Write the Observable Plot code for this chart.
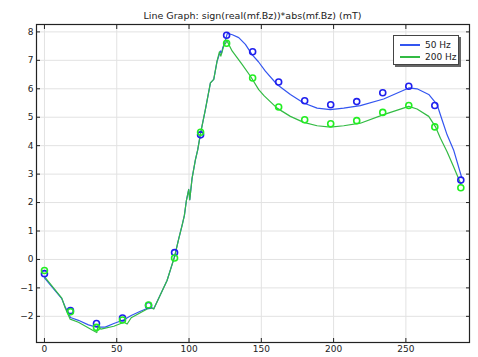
<!DOCTYPE html>
<html>
<head>
<meta charset="utf-8">
<script src="https://cdn.jsdelivr.net/npm/d3@7"></script>
<script src="https://cdn.jsdelivr.net/npm/@observablehq/plot@0.6"></script>
<style>
  html, body { margin: 0; padding: 0; background: #fff; }
  #wrap { position: relative; width: 478px; height: 357px; font-family: "DejaVu Sans", sans-serif; }
  #title { position: absolute; left: 36px; width: 433px; top: 10px; text-align: center; font-size: 9.5px; color: #222; }
  #chart { position: absolute; left: 0; top: 20px; }
  #legend { position: absolute; left: 393px; top: 35px; width: 64px; height: 28px; border: 1px solid #444;
            box-shadow: 2px 2px 0 #666; background: #fff; font-size: 9px; color: #222; }
  .row { position: absolute; left: 6px; height: 10px; display: flex; align-items: center; }
  .sw { display: block; width: 20px; height: 1.5px; margin-right: 5px; }
</style>
</head>
<body>
<div id="wrap">
  <div id="title">Line Graph: sign(real(mf.Bz))*abs(mf.Bz) (mT)</div>
  <div id="chart"></div>
  <div id="legend">
    <div class="row" style="top:4px"><span class="sw" style="background:#3355f0"></span>50 Hz</div>
    <div class="row" style="top:16px"><span class="sw" style="background:#33bb44"></span>200 Hz</div>
  </div>
</div>
<script>
// Simulated line, 50 Hz
const x50 = [0, 12, 14.3, 18, 23.5, 30.4, 36, 42, 48, 55, 60, 66, 73, 75.6, 84.8, 90, 92.9, 95.2, 96.8, 98.2, 99.8, 100.5, 102.1, 104.4, 106, 108, 111.3, 114.8, 117.1, 119.4, 121.7, 122.5, 123.3, 124.7, 126.5, 130, 134.4, 139, 143.6, 148, 152.8, 160.9, 170.1, 179.3, 188.6, 197.8, 207, 218.5, 234.6, 252, 257.7, 265.8, 271.6, 275, 278.5, 283, 288.5];
const y50 = [-0.65, -1.38, -1.66, -2.04, -2.14, -2.3, -2.38, -2.38, -2.25, -2.12, -1.97, -1.83, -1.68, -1.73, -0.74, 0.1, 0.73, 1.2, 1.55, 2.08, 2.46, 2.1, 2.85, 3.5, 3.85, 4.44, 5.27, 6.21, 6.33, 6.97, 7.33, 7.25, 7.44, 7.62, 7.95, 7.9, 7.8, 7.56, 7.2, 6.95, 6.62, 6.15, 5.8, 5.5, 5.32, 5.27, 5.32, 5.41, 5.64, 6.03, 6.0, 5.8, 5.44, 4.91, 4.38, 3.85, 2.9];
// Simulated line, 200 Hz
const x200 = [0, 12, 14.3, 17.8, 23.5, 32.7, 36.2, 37, 39, 48, 55, 57.2, 60, 66, 73, 75.6, 84.8, 90, 92.9, 95.2, 96.8, 98.2, 99.8, 100.5, 102.1, 104.4, 106, 108, 111.3, 114.8, 117.1, 119.4, 121, 122, 124, 126.3, 129.8, 136.7, 142.5, 148.2, 152, 160.9, 170.1, 179.3, 188.6, 197.8, 207, 218.5, 234.6, 252, 257.7, 265.8, 270.4, 273.9, 278.5, 283, 288];
const y200 = [-0.6, -1.36, -1.7, -2.1, -2.21, -2.47, -2.57, -2.35, -2.45, -2.35, -2.21, -2.27, -2.05, -1.88, -1.69, -1.74, -0.74, 0.1, 0.73, 1.2, 1.55, 2.08, 2.46, 2.1, 2.85, 3.5, 3.85, 4.44, 5.27, 6.21, 6.33, 6.97, 7.3, 7.15, 7.5, 7.68, 7.33, 6.86, 6.44, 5.97, 5.75, 5.32, 5.03, 4.82, 4.7, 4.65, 4.7, 4.79, 5.09, 5.38, 5.29, 5.03, 4.67, 4.26, 3.79, 3.26, 2.65];
// Measured points
const xMeas = [0, 18, 36, 54, 72, 90, 108, 126, 144, 162, 180, 198, 216, 234, 252, 270, 288];
const m50 = [-0.5, -1.8, -2.25, -2.06, -1.62, 0.24, 4.38, 7.88, 7.3, 6.24, 5.58, 5.44, 5.55, 5.86, 6.09, 5.41, 2.79];
const m200 = [-0.39, -1.84, -2.39, -2.13, -1.6, 0.05, 4.47, 7.6, 6.38, 5.36, 4.91, 4.77, 4.88, 5.17, 5.41, 4.66, 2.52];
// Ticks
const xTicks = [0, 50, 100, 150, 200, 250];
const yTicks = [-2, -1, 0, 1, 2, 3, 4, 5, 6, 7, 8];

const line50 = x50.map((x, i) => ({x, y: y50[i]}));
const line200 = x200.map((x, i) => ({x, y: y200[i]}));
const pts50 = xMeas.map((x, i) => ({x, y: m50[i]}));
const pts200 = xMeas.map((x, i) => ({x, y: m200[i]}));

const chart = Plot.plot({
  width: 478,
  height: 337,
  marginLeft: 36,
  marginRight: 9,
  marginTop: 4,
  marginBottom: 15,
  style: {fontFamily: "DejaVu Sans, sans-serif", fontSize: "9px", background: "transparent", color: "#222"},
  x: {domain: [-5.5, 294]},
  y: {domain: [-2.92, 8.26]},
  marks: [
    Plot.gridX(xTicks, {stroke: "#e2e2e2", strokeOpacity: 1}),
    Plot.gridY(yTicks, {stroke: "#e2e2e2", strokeOpacity: 1}),
    Plot.axisX(xTicks, {anchor: "bottom", tickSize: -4, tickPadding: 7, label: null, stroke: "#222"}),
    Plot.axisX(xTicks, {anchor: "top", tickSize: -4, label: null, fill: "none", stroke: "#222"}),
    Plot.axisY(yTicks, {anchor: "left", tickSize: -4, tickPadding: 7, label: null, stroke: "#222"}),
    Plot.axisY(yTicks, {anchor: "right", tickSize: -4, label: null, fill: "none", stroke: "#222"}),
    Plot.line(line50, {x: "x", y: "y", stroke: "#3355f0", strokeWidth: 1.2}),
    Plot.line(line200, {x: "x", y: "y", stroke: "#33bb44", strokeWidth: 1.2}),
    Plot.dot(pts50, {x: "x", y: "y", r: 3, stroke: "#1f1fee", strokeWidth: 1.6, fill: "none"}),
    Plot.dot(pts200, {x: "x", y: "y", r: 3, stroke: "#22ee22", strokeWidth: 1.6, fill: "none"}),
    Plot.frame({stroke: "#222", strokeWidth: 1.2})
  ]
});
document.getElementById("chart").appendChild(chart);
</script>
</body>
</html>
